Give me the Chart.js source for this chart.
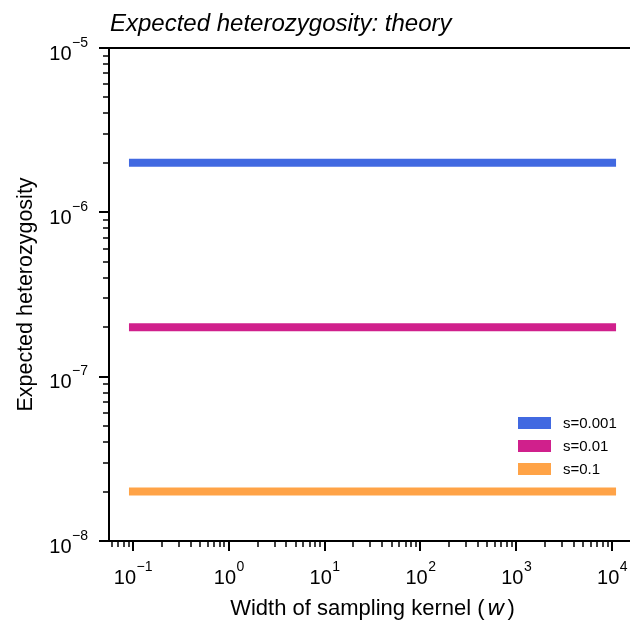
<!DOCTYPE html>
<html><head><meta charset="utf-8">
<script src="https://cdn.jsdelivr.net/npm/chart.js@4.4.1/dist/chart.umd.min.js"></script>
<style>
html,body{margin:0;padding:0;background:#fff;overflow:hidden;width:630px;height:626px}
#wrap{width:640px;height:626px;position:relative}
</style></head>
<body><div id="wrap"><canvas id="c" width="640" height="626"></canvas></div>
<script>
// ---- data ----
const kernelWidths = [0.1, 1, 10, 100, 1000, 10000];
const hetS0001 = [2e-6, 2e-6, 2e-6, 2e-6, 2e-6, 2e-6];
const hetS001  = [2e-7, 2e-7, 2e-7, 2e-7, 2e-7, 2e-7];
const hetS01   = [2e-8, 2e-8, 2e-8, 2e-8, 2e-8, 2e-8];
const seriesLabels = ['s=0.001', 's=0.01', 's=0.1'];
const xTickExponents = [-1, 0, 1, 2, 3, 4];
const yTickExponents = [-8, -7, -6, -5];
const xLimits = [0.0562, 17783];
const yLimits = [1e-8, 1e-5];
const titleText = 'Expected heterozygosity: theory';
const yLabelText = 'Expected heterozygosity';
const xLabelPre = 'Width of sampling kernel (';
const xLabelVar = 'w';
const xLabelPost = ')';

const colors = ['#4169E1', '#D0208C', '#FFA347'];
const FONT = "'Liberation Sans', Arial, sans-serif";

function toPts(ys) { return kernelWidths.map((x, i) => ({x: x, y: ys[i]})); }

const datasets = [hetS0001, hetS001, hetS01].map((ys, i) => ({
  label: seriesLabels[i],
  data: toPts(ys),
  borderColor: colors[i],
  backgroundColor: colors[i],
  borderWidth: 8,
  borderCapStyle: 'square',
  pointRadius: 0,
  tension: 0,
  fill: false
}));

function minus(s) { return s.replace('-', '\u2212'); }

const decor = {
  id: 'decor',
  afterDraw(chart) {
    const ctx = chart.ctx, ca = chart.chartArea;
    const xs = chart.scales.x, ys = chart.scales.y;
    const W = chart.width;
    ctx.save();
    ctx.strokeStyle = '#000';
    ctx.fillStyle = '#000';
    // spines
    ctx.lineWidth = 2;
    ctx.beginPath();
    ctx.moveTo(ca.left, ca.top); ctx.lineTo(W, ca.top);
    ctx.moveTo(ca.left, ca.top - 1); ctx.lineTo(ca.left, ca.bottom + 1);
    ctx.moveTo(ca.left - 1, ca.bottom); ctx.lineTo(W, ca.bottom);
    ctx.stroke();

    // x ticks
    for (let k = -2; k <= 5; k++) {
      for (let m = 1; m <= 9; m++) {
        const v = m * Math.pow(10, k);
        if (v < xLimits[0] || v > xLimits[1]) continue;
        const px = Math.round(xs.getPixelForValue(v));
        const major = m === 1;
        ctx.lineWidth = major ? 2 : 1.5;
        ctx.beginPath();
        ctx.moveTo(px, ca.bottom);
        ctx.lineTo(px, ca.bottom + (major ? 10 : 6));
        ctx.stroke();
      }
    }
    // y ticks
    for (let k = -9; k <= -4; k++) {
      for (let m = 1; m <= 9; m++) {
        const v = m * Math.pow(10, k);
        if (v < yLimits[0] * 0.999 || v > yLimits[1] * 1.001) continue;
        const py = Math.round(ys.getPixelForValue(v));
        const major = m === 1;
        ctx.lineWidth = major ? 2 : 1.5;
        ctx.beginPath();
        ctx.moveTo(ca.left, py);
        ctx.lineTo(ca.left - (major ? 10 : 6), py);
        ctx.stroke();
      }
    }

    // tick labels
    const mainF = '20px ' + FONT, expF = '14px ' + FONT;
    ctx.textBaseline = 'alphabetic';
    ctx.textAlign = 'left';
    xTickExponents.forEach(e => {
      const px = xs.getPixelForValue(Math.pow(10, e));
      const es = minus(String(e));
      ctx.font = mainF; const w1 = ctx.measureText('10').width;
      ctx.font = expF; const w2 = ctx.measureText(es).width;
      const x0 = px - (w1 + w2) / 2;
      ctx.font = mainF; ctx.fillText('10', x0, 584);
      ctx.font = expF; ctx.fillText(es, x0 + w1 + 0.5, 571);
    });
    yTickExponents.forEach(e => {
      const py = ys.getPixelForValue(Math.pow(10, e));
      const es = minus(String(e));
      ctx.font = mainF; const w1 = ctx.measureText('10').width;
      ctx.font = expF; const w2 = ctx.measureText(es).width;
      const xr = 88;
      const x0 = xr - w1 - w2 - 0.5;
      ctx.font = mainF; ctx.fillText('10', x0, py + 11.5);
      ctx.font = expF; ctx.fillText(es, x0 + w1 + 0.5, py - 1.5);
    });

    // x label
    const lf = '22px ' + FONT, lfi = "italic 22px 'DejaVu Sans', " + FONT;
    ctx.font = lf; const a = ctx.measureText(xLabelPre).width;
    ctx.font = lfi; const b = ctx.measureText(xLabelVar).width;
    ctx.font = lf; const c = ctx.measureText(xLabelPost).width;
    const gap = 2.5;
    const cx = (ca.left + ca.right) / 2;
    let x0 = cx - (a + b + c + 2 * gap) / 2;
    ctx.font = lf; ctx.fillText(xLabelPre, x0, 615);
    ctx.font = lfi; ctx.fillText(xLabelVar, x0 + a + gap, 615);
    ctx.font = lf; ctx.fillText(xLabelPost, x0 + a + b + 2 * gap, 615);

    // y label
    ctx.save();
    ctx.translate(31.5, (ca.top + ca.bottom) / 2);
    ctx.rotate(-Math.PI / 2);
    ctx.textAlign = 'center';
    ctx.font = '21.5px ' + FONT;
    ctx.fillText(yLabelText, 0, 0);
    ctx.restore();

    // title
    ctx.font = 'italic 24px ' + FONT;
    ctx.textAlign = 'left';
    ctx.fillText(titleText, ca.left + 1, 31);

    // legend
    ctx.font = '15px ' + FONT;
    ctx.textBaseline = 'middle';
    chart.data.datasets.forEach((ds, i) => {
      const yc = 423 + i * 23;
      ctx.fillStyle = ds.borderColor;
      ctx.fillRect(518, yc - 6, 33, 12);
      ctx.fillStyle = '#000';
      ctx.fillText(ds.label, 563, yc + 1);
    });
    ctx.restore();
  }
};

new Chart(document.getElementById('c'), {
  type: 'line',
  data: { datasets: datasets },
  options: {
    responsive: false,
    devicePixelRatio: 1,
    animation: false,
    layout: { padding: { left: 109, top: 48, right: 4, bottom: 85 } },
    plugins: { legend: { display: false }, tooltip: { enabled: false }, title: { display: false } },
    scales: {
      x: {
        type: 'logarithmic', min: xLimits[0], max: xLimits[1],
        ticks: { display: false }, grid: { display: false, drawTicks: false }, border: { display: false }
      },
      y: {
        type: 'logarithmic', min: yLimits[0], max: yLimits[1],
        ticks: { display: false }, grid: { display: false, drawTicks: false }, border: { display: false }
      }
    }
  },
  plugins: [decor]
});
</script>
</body></html>
